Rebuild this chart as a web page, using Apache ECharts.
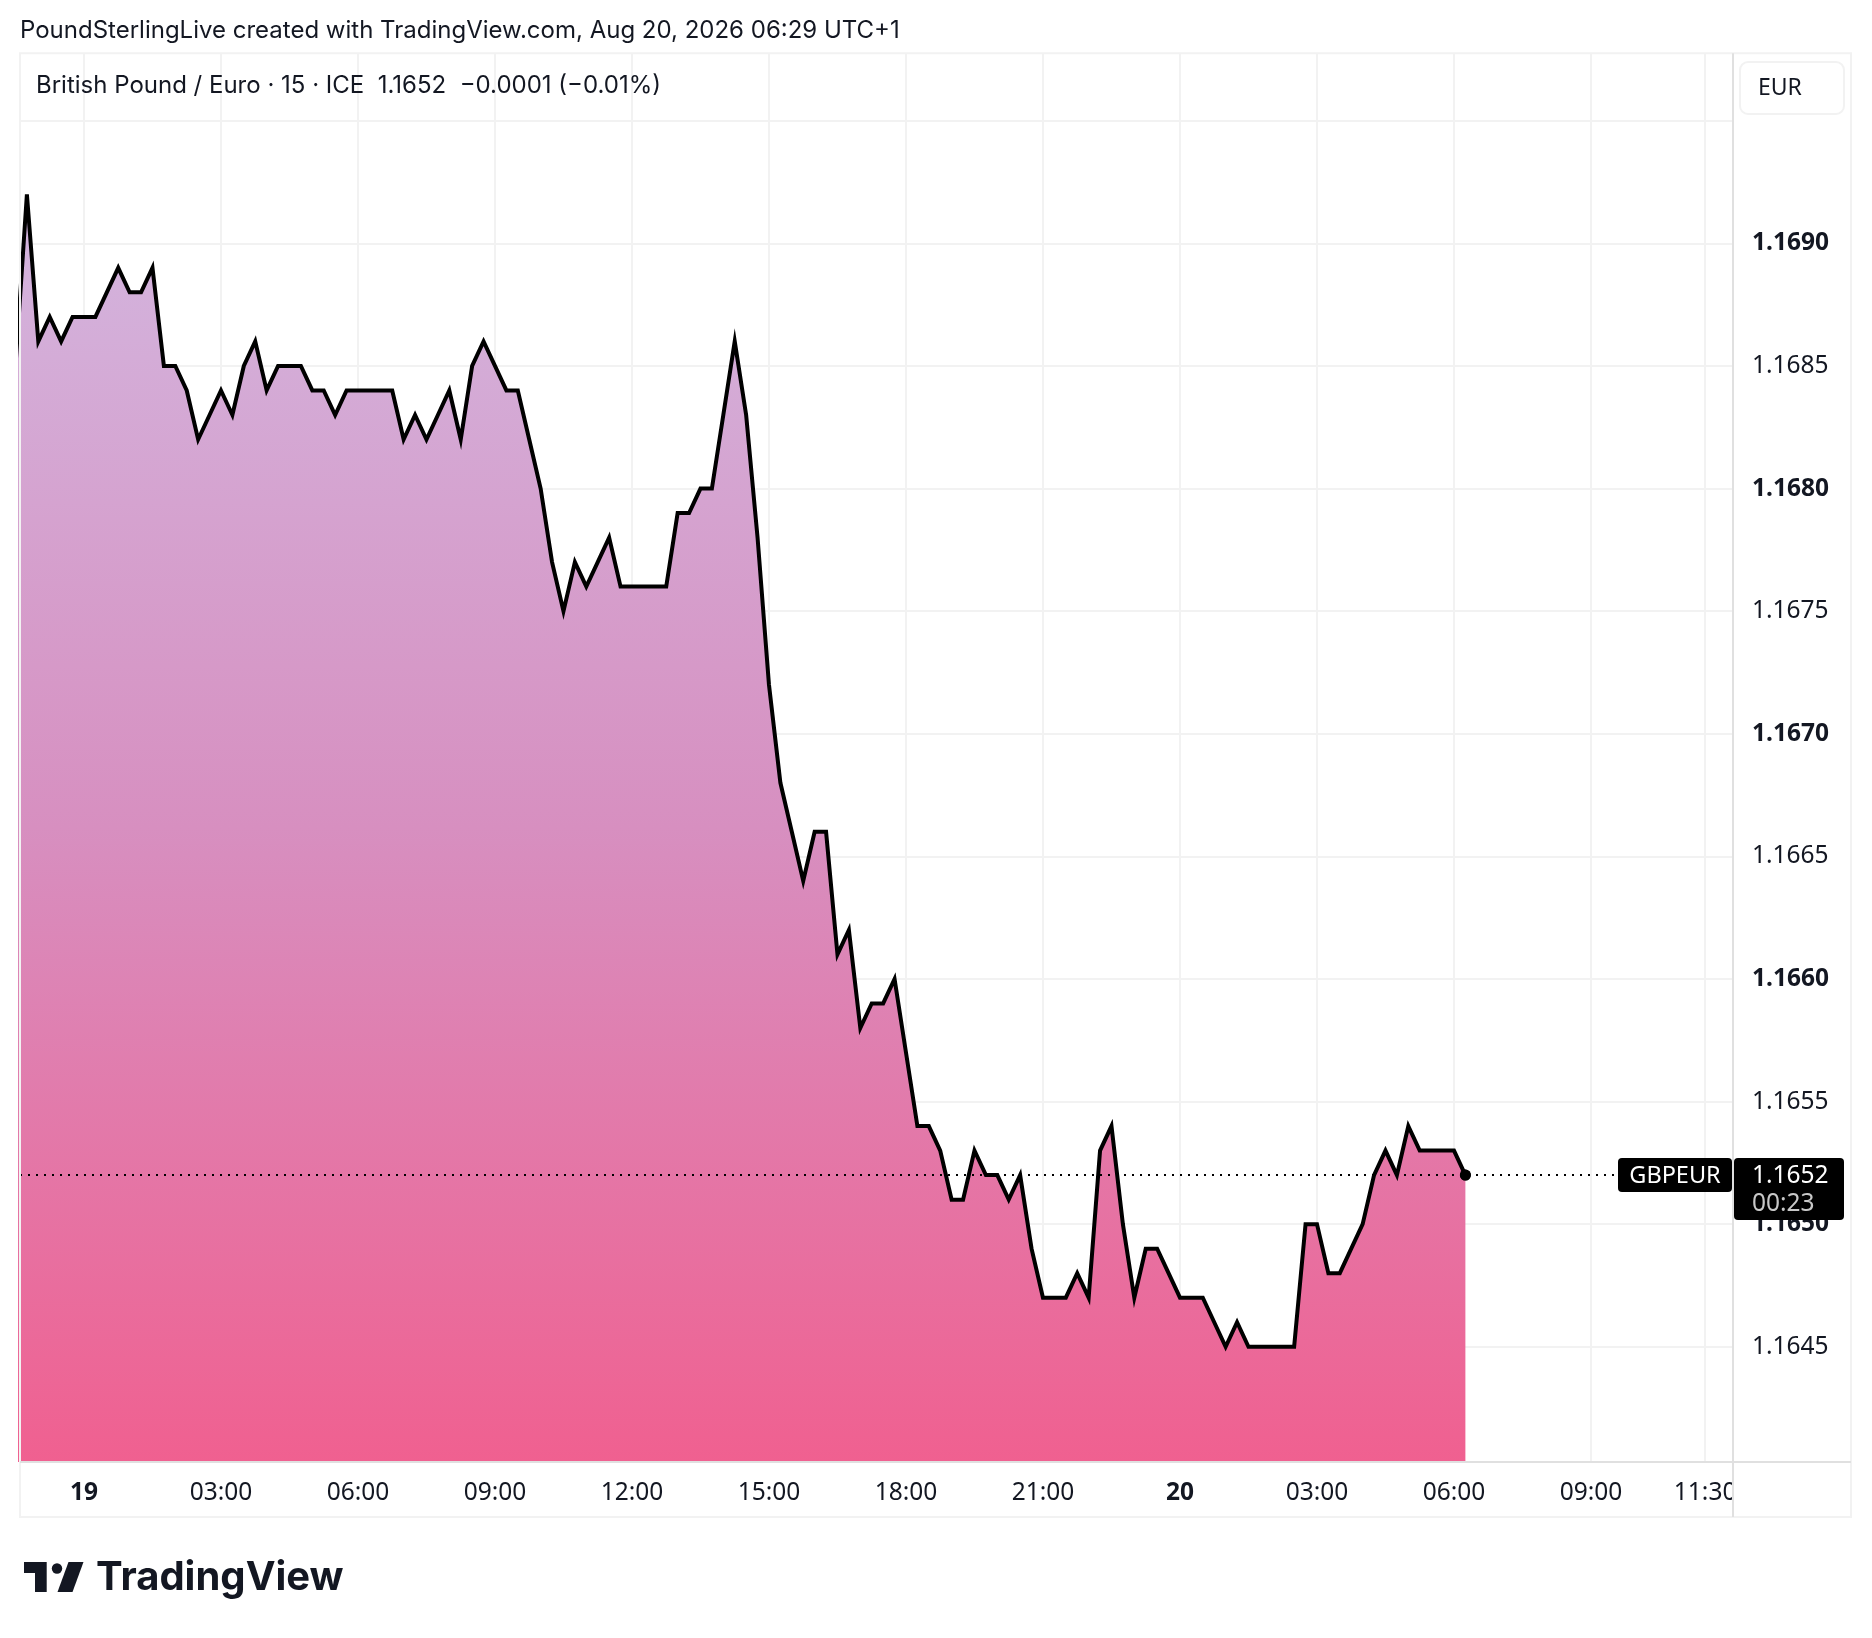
<!DOCTYPE html>
<html><head><meta charset="utf-8">
<script src="https://cdn.jsdelivr.net/npm/echarts@6/dist/echarts.min.js"></script>
<style>html,body{margin:0;padding:0;background:#fff}#c{width:1872px;height:1638px}</style>
</head><body><div id="c"></div>
<script>
// ---- data ----
const startHour = -1.5;   // first 15-min bar: Aug 18 22:30 (hours relative to Aug 19 00:00)
const barHours = 0.25;    // 15-minute bars
const prices = [
  1.1685, 1.1692, 1.1686, 1.1687, 1.1686, 1.1687, 1.1687, 1.1687, 1.1688, 1.1689,
  1.1688, 1.1688, 1.1689, 1.1685, 1.1685, 1.1684, 1.1682, 1.1683, 1.1684, 1.1683,
  1.1685, 1.1686, 1.1684, 1.1685, 1.1685, 1.1685, 1.1684, 1.1684, 1.1683, 1.1684,
  1.1684, 1.1684, 1.1684, 1.1684, 1.1682, 1.1683, 1.1682, 1.1683, 1.1684, 1.1682,
  1.1685, 1.1686, 1.1685, 1.1684, 1.1684, 1.1682, 1.1680, 1.1677, 1.1675, 1.1677,
  1.1676, 1.1677, 1.1678, 1.1676, 1.1676, 1.1676, 1.1676, 1.1676, 1.1679, 1.1679,
  1.1680, 1.1680, 1.1683, 1.1686, 1.1683, 1.1678, 1.1672, 1.1668, 1.1666, 1.1664,
  1.1666, 1.1666, 1.1661, 1.1662, 1.1658, 1.1659, 1.1659, 1.1660, 1.1657, 1.1654,
  1.1654, 1.1653, 1.1651, 1.1651, 1.1653, 1.1652, 1.1652, 1.1651, 1.1652, 1.1649,
  1.1647, 1.1647, 1.1647, 1.1648, 1.1647, 1.1653, 1.1654, 1.1650, 1.1647, 1.1649,
  1.1649, 1.1648, 1.1647, 1.1647, 1.1647, 1.1646, 1.1645, 1.1646, 1.1645, 1.1645,
  1.1645, 1.1645, 1.1645, 1.1650, 1.1650, 1.1648, 1.1648, 1.1649, 1.1650, 1.1652,
  1.1653, 1.1652, 1.1654, 1.1653, 1.1653, 1.1653, 1.1653, 1.1652
];
const xTickHours  = [0, 3, 6, 9, 12, 15, 18, 21, 24, 27, 30, 33, 35.5];
const xTickLabels = ['19', '03:00', '06:00', '09:00', '12:00', '15:00', '18:00', '21:00', '20', '03:00', '06:00', '09:00', '11:30'];
const xDayLabels  = ['19', '20'];
const yGridTicks  = [1.1645, 1.1650, 1.1655, 1.1660, 1.1665, 1.1670, 1.1675, 1.1680, 1.1685, 1.1690, 1.1695];
const yLabelTicks = [1.1645, 1.1650, 1.1655, 1.1660, 1.1665, 1.1670, 1.1675, 1.1680, 1.1685, 1.1690];
const xRange = [-1.401, 36.11];
const yRange = [1.16403, 1.169775];
const titleText  = 'PoundSterlingLive created with TradingView.com, Aug 20, 2026 06:29 UTC+1';
const legendText = 'British Pound / Euro · 15 · ICE  1.1652  −0.0001 (−0.01%)';
const symbolText = 'GBPEUR';
const priceText = '1.1652';
const countdownText = '00:23';
const currencyText = 'EUR';

// ---- chart ----
const FONT = 'Inter, "Noto Sans", sans-serif';
const NUMFONT = '"Noto Sans", "Open Sans", sans-serif';
const INK = '#131722';
const GRID = '#f2f2f2';
const SEP = '#e0e0e0';

const seriesData = prices.map((v, i) => [startHour + i * barHours, v]);
const last = seriesData[seriesData.length - 1];

const chart = echarts.init(document.getElementById('c'), null, {renderer: 'canvas'});

function xLabel(v) {
  const i = xTickHours.findIndex(t => Math.abs(t - v) < 1e-6);
  if (i < 0) return '';
  const s = xTickLabels[i];
  return xDayLabels.includes(s) ? '{b|' + s + '}' : s;
}
function yLabel(v) {
  const s = v.toFixed(4);
  return Math.round(v * 10000) % 10 === 0 ? '{b|' + s + '}' : s;
}

chart.setOption({
  animation: false,
  backgroundColor: '#ffffff',
  grid: {left: 20, right: 139, top: 53.3, bottom: 176, containLabel: false, outerBoundsMode: 'none'},
  xAxis: {
    type: 'value', min: xRange[0], max: xRange[1],
    axisLine: {show: false},
    axisTick: {show: false, customValues: xTickHours},
    splitLine: {show: true, lineStyle: {color: GRID, width: 2}},
    axisLabel: {
      customValues: xTickHours, formatter: xLabel, margin: 18,
      color: INK, fontSize: 24.5, fontFamily: NUMFONT, lineHeight: 26,
      rich: {b: {fontWeight: 'bold', fontSize: 24.5, fontFamily: NUMFONT, color: INK, lineHeight: 26}}
    }
  },
  yAxis: {
    type: 'value', position: 'right', min: yRange[0], max: yRange[1], scale: true,
    axisLine: {show: false},
    axisTick: {show: false, customValues: yGridTicks},
    splitLine: {show: true, lineStyle: {color: GRID, width: 2}},
    axisLabel: {
      customValues: yLabelTicks, formatter: yLabel, margin: 19,
      color: INK, fontSize: 24.5, fontFamily: NUMFONT,
      rich: {b: {fontWeight: 'bold', fontSize: 24.5, fontFamily: NUMFONT, color: INK}}
    }
  },
  series: [{
    type: 'line',
    data: seriesData,
    showSymbol: false,
    clip: true,
    z: 3,
    lineStyle: {color: '#000000', width: 4, join: 'miter', miterLimit: 10},
    areaStyle: {
      origin: 'start',
      opacity: 1,
      color: new echarts.graphic.LinearGradient(0, 0, 0, 1, [
        {offset: 0, color: '#d3b6df'},
        {offset: 0.5, color: '#d78fc0'},
        {offset: 1, color: '#f06090'}
      ])
    },
    markPoint: {
      silent: true, symbol: 'circle', symbolSize: 11,
      itemStyle: {color: '#000000'}, label: {show: false},
      data: [{coord: last}]
    }
  }]
});

// overlays positioned through the chart's own scales
const gx0 = chart.convertToPixel({xAxisIndex: 0}, xRange[0]);
const gx1 = chart.convertToPixel({xAxisIndex: 0}, xRange[1]);
const lx  = chart.convertToPixel({xAxisIndex: 0}, last[0]);
const gy0 = chart.convertToPixel({yAxisIndex: 0}, yRange[1]);
const gy1 = chart.convertToPixel({yAxisIndex: 0}, yRange[0]);
const py  = chart.convertToPixel({yAxisIndex: 0}, last[1]);
const panelR = 1851, panelB = 1517;

chart.setOption({
  graphic: [
    // title
    {type: 'text', x: 20, y: 31, z: 100, style: {text: titleText, font: '24px ' + FONT, fill: INK, verticalAlign: 'middle'}},
    // legend line
    {type: 'text', x: 36, y: 86, z: 100, style: {text: legendText, font: '24px ' + FONT, fill: INK, verticalAlign: 'middle'}},
    // last-price dotted line
    {type: 'line', z: 80, shape: {x1: gx0, y1: Math.round(py), x2: gx1, y2: Math.round(py)}, style: {stroke: '#000000', lineWidth: 2, lineDash: [2, 6]}},
    // last point dot (above dotted line)
    {type: 'circle', z: 81, shape: {cx: lx, cy: py, r: 5.5}, style: {fill: '#000000'}},
    // cover for clipped x label in price-axis column
    {type: 'rect', z: 90, shape: {x: gx1 + 1, y: gy1 + 1, width: panelR - gx1 - 2, height: panelB - gy1 - 2}, style: {fill: '#ffffff'}},
    // panel frame
    {type: 'rect', z: 95, shape: {x: gx0, y: gy0, width: panelR - gx0, height: panelB - gy0}, style: {fill: null, stroke: GRID, lineWidth: 2}},
    // price axis separator
    {type: 'line', z: 96, shape: {x1: gx1, y1: gy0, x2: gx1, y2: panelB}, style: {stroke: SEP, lineWidth: 2}},
    // time axis separator
    {type: 'line', z: 96, shape: {x1: gx0, y1: gy1, x2: panelR, y2: gy1}, style: {stroke: SEP, lineWidth: 2}},
    // currency button
    {type: 'rect', z: 97, shape: {x: 1740, y: 62, width: 104, height: 52, r: 8}, style: {fill: '#ffffff', stroke: GRID, lineWidth: 2}},
    {type: 'text', z: 98, x: 1758, y: 88, style: {text: currencyText, font: '23px ' + NUMFONT, fill: INK, verticalAlign: 'middle'}},
    // symbol label
    {type: 'rect', z: 99, shape: {x: gx1 - 115, y: py - 17, width: 114, height: 34, r: 4}, style: {fill: '#000000'}},
    {type: 'text', z: 100, x: gx1 - 58, y: py + 1, style: {text: symbolText, font: '23.5px ' + NUMFONT, fill: '#ffffff', align: 'center', verticalAlign: 'middle'}},
    // price label
    {type: 'rect', z: 99, shape: {x: gx1 + 1, y: py - 17, width: 110, height: 62, r: 4}, style: {fill: '#000000'}},
    {type: 'text', z: 100, x: gx1 + 19, y: py + 1, style: {text: priceText, font: '24.5px ' + NUMFONT, fill: '#ffffff', verticalAlign: 'middle'}},
    {type: 'text', z: 100, x: gx1 + 19, y: py + 29, style: {text: countdownText, font: '24.5px ' + NUMFONT, fill: '#c8c8c8', verticalAlign: 'middle'}},
    // TradingView logo
    {type: 'group', z: 100, children: [
      {type: 'polygon', shape: {points: [[24, 1562], [46.7, 1562], [46.7, 1592], [35, 1592], [35, 1573], [24, 1573]]}, style: {fill: INK}},
      {type: 'circle', shape: {cx: 57, cy: 1568.5, r: 5.2}, style: {fill: INK}},
      {type: 'polygon', shape: {points: [[68.5, 1562], [83.5, 1562], [72.5, 1592], [57.5, 1592]]}, style: {fill: INK}},
      {type: 'text', x: 96, y: 1578, style: {text: 'TradingView', font: 'bold 40px ' + FONT, fill: INK, verticalAlign: 'middle'}}
    ]}
  ]
});
</script>
</body></html>
